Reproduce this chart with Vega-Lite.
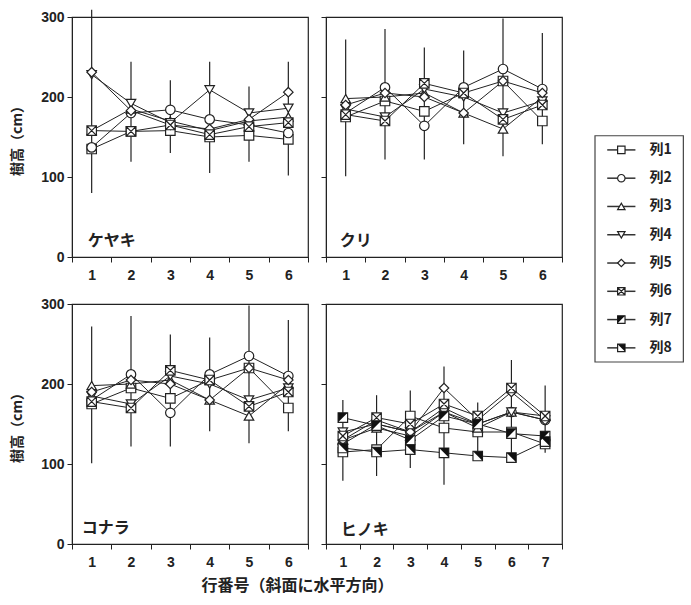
{
 "$schema": "https://vega.github.io/schema/vega-lite/v6.json",
 "background": "white",
 "padding": {"left": 10, "top": 8, "right": 0, "bottom": 0},
 "config": {
  "view": {"stroke": "#222", "strokeWidth": 1.2},
  "axis": {"domainColor": "#222", "tickColor": "#222", "labelColor": "#222", "titleColor": "#222", "grid": false, "tickSize": 5, "labelFont": "Liberation Sans", "labelFontSize": 14, "labelFontWeight": "bold", "titleFont": "Noto Sans CJK JP", "titleFontSize": 14, "titleFontWeight": "bold"},
  "axisX": {"tickBand": "extent", "labelAngle": 0, "labelPadding": 6},
  "axisY": {"labelPadding": 3, "titlePadding": 16}
 },
 "datasets": {
  "pts": [
   {"sp":"ケヤキ","r":1,"s":"列1","h":135},{"sp":"ケヤキ","r":2,"s":"列1","h":157},{"sp":"ケヤキ","r":3,"s":"列1","h":158},{"sp":"ケヤキ","r":4,"s":"列1","h":150},{"sp":"ケヤキ","r":5,"s":"列1","h":152},{"sp":"ケヤキ","r":6,"s":"列1","h":147},
   {"sp":"ケヤキ","r":1,"s":"列2","h":137},{"sp":"ケヤキ","r":2,"s":"列2","h":180},{"sp":"ケヤキ","r":3,"s":"列2","h":184},{"sp":"ケヤキ","r":4,"s":"列2","h":172},{"sp":"ケヤキ","r":5,"s":"列2","h":165},{"sp":"ケヤキ","r":6,"s":"列2","h":155},
   {"sp":"ケヤキ","r":1,"s":"列3","h":158},{"sp":"ケヤキ","r":2,"s":"列3","h":185},{"sp":"ケヤキ","r":3,"s":"列3","h":170},{"sp":"ケヤキ","r":4,"s":"列3","h":158},{"sp":"ケヤキ","r":5,"s":"列3","h":170},{"sp":"ケヤキ","r":6,"s":"列3","h":175},
   {"sp":"ケヤキ","r":1,"s":"列4","h":228},{"sp":"ケヤキ","r":2,"s":"列4","h":192},{"sp":"ケヤキ","r":3,"s":"列4","h":168},{"sp":"ケヤキ","r":4,"s":"列4","h":209},{"sp":"ケヤキ","r":5,"s":"列4","h":180},{"sp":"ケヤキ","r":6,"s":"列4","h":186},
   {"sp":"ケヤキ","r":1,"s":"列5","h":231},{"sp":"ケヤキ","r":2,"s":"列5","h":183},{"sp":"ケヤキ","r":3,"s":"列5","h":165},{"sp":"ケヤキ","r":4,"s":"列5","h":160},{"sp":"ケヤキ","r":5,"s":"列5","h":172},{"sp":"ケヤキ","r":6,"s":"列5","h":206},
   {"sp":"ケヤキ","r":1,"s":"列6","h":158},{"sp":"ケヤキ","r":2,"s":"列6","h":157},{"sp":"ケヤキ","r":3,"s":"列6","h":165},{"sp":"ケヤキ","r":4,"s":"列6","h":153},{"sp":"ケヤキ","r":5,"s":"列6","h":163},{"sp":"ケヤキ","r":6,"s":"列6","h":168},
   {"sp":"クリ","r":1,"s":"列1","h":175},{"sp":"クリ","r":2,"s":"列1","h":195},{"sp":"クリ","r":3,"s":"列1","h":182},{"sp":"クリ","r":4,"s":"列1","h":205},{"sp":"クリ","r":5,"s":"列1","h":220},{"sp":"クリ","r":6,"s":"列1","h":170},
   {"sp":"クリ","r":1,"s":"列2","h":180},{"sp":"クリ","r":2,"s":"列2","h":212},{"sp":"クリ","r":3,"s":"列2","h":164},{"sp":"クリ","r":4,"s":"列2","h":212},{"sp":"クリ","r":5,"s":"列2","h":235},{"sp":"クリ","r":6,"s":"列2","h":210},
   {"sp":"クリ","r":1,"s":"列3","h":198},{"sp":"クリ","r":2,"s":"列3","h":200},{"sp":"クリ","r":3,"s":"列3","h":205},{"sp":"クリ","r":4,"s":"列3","h":180},{"sp":"クリ","r":5,"s":"列3","h":160},{"sp":"クリ","r":6,"s":"列3","h":200},
   {"sp":"クリ","r":1,"s":"列4","h":185},{"sp":"クリ","r":2,"s":"列4","h":175},{"sp":"クリ","r":3,"s":"列4","h":210},{"sp":"クリ","r":4,"s":"列4","h":200},{"sp":"クリ","r":5,"s":"列4","h":180},{"sp":"クリ","r":6,"s":"列4","h":195},
   {"sp":"クリ","r":1,"s":"列5","h":190},{"sp":"クリ","r":2,"s":"列5","h":205},{"sp":"クリ","r":3,"s":"列5","h":200},{"sp":"クリ","r":4,"s":"列5","h":180},{"sp":"クリ","r":5,"s":"列5","h":220},{"sp":"クリ","r":6,"s":"列5","h":205},
   {"sp":"クリ","r":1,"s":"列6","h":178},{"sp":"クリ","r":2,"s":"列6","h":170},{"sp":"クリ","r":3,"s":"列6","h":217},{"sp":"クリ","r":4,"s":"列6","h":205},{"sp":"クリ","r":5,"s":"列6","h":172},{"sp":"クリ","r":6,"s":"列6","h":190},
   {"sp":"コナラ","r":1,"s":"列1","h":175},{"sp":"コナラ","r":2,"s":"列1","h":195},{"sp":"コナラ","r":3,"s":"列1","h":182},{"sp":"コナラ","r":4,"s":"列1","h":205},{"sp":"コナラ","r":5,"s":"列1","h":220},{"sp":"コナラ","r":6,"s":"列1","h":170},
   {"sp":"コナラ","r":1,"s":"列2","h":180},{"sp":"コナラ","r":2,"s":"列2","h":212},{"sp":"コナラ","r":3,"s":"列2","h":164},{"sp":"コナラ","r":4,"s":"列2","h":212},{"sp":"コナラ","r":5,"s":"列2","h":235},{"sp":"コナラ","r":6,"s":"列2","h":210},
   {"sp":"コナラ","r":1,"s":"列3","h":198},{"sp":"コナラ","r":2,"s":"列3","h":200},{"sp":"コナラ","r":3,"s":"列3","h":205},{"sp":"コナラ","r":4,"s":"列3","h":180},{"sp":"コナラ","r":5,"s":"列3","h":160},{"sp":"コナラ","r":6,"s":"列3","h":200},
   {"sp":"コナラ","r":1,"s":"列4","h":185},{"sp":"コナラ","r":2,"s":"列4","h":175},{"sp":"コナラ","r":3,"s":"列4","h":210},{"sp":"コナラ","r":4,"s":"列4","h":200},{"sp":"コナラ","r":5,"s":"列4","h":180},{"sp":"コナラ","r":6,"s":"列4","h":195},
   {"sp":"コナラ","r":1,"s":"列5","h":190},{"sp":"コナラ","r":2,"s":"列5","h":205},{"sp":"コナラ","r":3,"s":"列5","h":200},{"sp":"コナラ","r":4,"s":"列5","h":180},{"sp":"コナラ","r":5,"s":"列5","h":220},{"sp":"コナラ","r":6,"s":"列5","h":205},
   {"sp":"コナラ","r":1,"s":"列6","h":178},{"sp":"コナラ","r":2,"s":"列6","h":170},{"sp":"コナラ","r":3,"s":"列6","h":217},{"sp":"コナラ","r":4,"s":"列6","h":205},{"sp":"コナラ","r":5,"s":"列6","h":172},{"sp":"コナラ","r":6,"s":"列6","h":190},
   {"sp":"ヒノキ","r":1,"s":"列1","h":115},{"sp":"ヒノキ","r":2,"s":"列1","h":118},{"sp":"ヒノキ","r":3,"s":"列1","h":160},{"sp":"ヒノキ","r":4,"s":"列1","h":145},{"sp":"ヒノキ","r":5,"s":"列1","h":140},{"sp":"ヒノキ","r":6,"s":"列1","h":140},{"sp":"ヒノキ","r":7,"s":"列1","h":125},
   {"sp":"ヒノキ","r":1,"s":"列2","h":125},{"sp":"ヒノキ","r":2,"s":"列2","h":150},{"sp":"ヒノキ","r":3,"s":"列2","h":140},{"sp":"ヒノキ","r":4,"s":"列2","h":170},{"sp":"ヒノキ","r":5,"s":"列2","h":150},{"sp":"ヒノキ","r":6,"s":"列2","h":165},{"sp":"ヒノキ","r":7,"s":"列2","h":155},
   {"sp":"ヒノキ","r":1,"s":"列3","h":130},{"sp":"ヒノキ","r":2,"s":"列3","h":145},{"sp":"ヒノキ","r":3,"s":"列3","h":135},{"sp":"ヒノキ","r":4,"s":"列3","h":165},{"sp":"ヒノキ","r":5,"s":"列3","h":145},{"sp":"ヒノキ","r":6,"s":"列3","h":165},{"sp":"ヒノキ","r":7,"s":"列3","h":160},
   {"sp":"ヒノキ","r":1,"s":"列4","h":140},{"sp":"ヒノキ","r":2,"s":"列4","h":150},{"sp":"ヒノキ","r":3,"s":"列4","h":140},{"sp":"ヒノキ","r":4,"s":"列4","h":165},{"sp":"ヒノキ","r":5,"s":"列4","h":150},{"sp":"ヒノキ","r":6,"s":"列4","h":165},{"sp":"ヒノキ","r":7,"s":"列4","h":155},
   {"sp":"ヒノキ","r":1,"s":"列5","h":130},{"sp":"ヒノキ","r":2,"s":"列5","h":155},{"sp":"ヒノキ","r":3,"s":"列5","h":140},{"sp":"ヒノキ","r":4,"s":"列5","h":195},{"sp":"ヒノキ","r":5,"s":"列5","h":155},{"sp":"ヒノキ","r":6,"s":"列5","h":190},{"sp":"ヒノキ","r":7,"s":"列5","h":155},
   {"sp":"ヒノキ","r":1,"s":"列6","h":135},{"sp":"ヒノキ","r":2,"s":"列6","h":158},{"sp":"ヒノキ","r":3,"s":"列6","h":150},{"sp":"ヒノキ","r":4,"s":"列6","h":175},{"sp":"ヒノキ","r":5,"s":"列6","h":160},{"sp":"ヒノキ","r":6,"s":"列6","h":195},{"sp":"ヒノキ","r":7,"s":"列6","h":160},
   {"sp":"ヒノキ","r":1,"s":"列7","h":158},{"sp":"ヒノキ","r":2,"s":"列7","h":148},{"sp":"ヒノキ","r":3,"s":"列7","h":130},{"sp":"ヒノキ","r":4,"s":"列7","h":160},{"sp":"ヒノキ","r":5,"s":"列7","h":150},{"sp":"ヒノキ","r":6,"s":"列7","h":138},{"sp":"ヒノキ","r":7,"s":"列7","h":135},
   {"sp":"ヒノキ","r":1,"s":"列8","h":120},{"sp":"ヒノキ","r":2,"s":"列8","h":115},{"sp":"ヒノキ","r":3,"s":"列8","h":118},{"sp":"ヒノキ","r":4,"s":"列8","h":114},{"sp":"ヒノキ","r":5,"s":"列8","h":110},{"sp":"ヒノキ","r":6,"s":"列8","h":108},{"sp":"ヒノキ","r":7,"s":"列8","h":128}
  ],
  "err": [
   {"sp":"ケヤキ","r":1,"lo":80,"hi":309},{"sp":"ケヤキ","r":2,"lo":119,"hi":244},{"sp":"ケヤキ","r":3,"lo":130,"hi":221},{"sp":"ケヤキ","r":4,"lo":105,"hi":244},{"sp":"ケヤキ","r":5,"lo":119,"hi":213},{"sp":"ケヤキ","r":6,"lo":102,"hi":244},
   {"sp":"クリ","r":1,"lo":101,"hi":272},{"sp":"クリ","r":2,"lo":122,"hi":285},{"sp":"クリ","r":3,"lo":122,"hi":262},{"sp":"クリ","r":4,"lo":141,"hi":258},{"sp":"クリ","r":5,"lo":126,"hi":298},{"sp":"クリ","r":6,"lo":141,"hi":280},
   {"sp":"コナラ","r":1,"lo":101,"hi":272},{"sp":"コナラ","r":2,"lo":122,"hi":285},{"sp":"コナラ","r":3,"lo":122,"hi":262},{"sp":"コナラ","r":4,"lo":141,"hi":258},{"sp":"コナラ","r":5,"lo":126,"hi":298},{"sp":"コナラ","r":6,"lo":141,"hi":280},
   {"sp":"ヒノキ","r":1,"lo":79,"hi":180},{"sp":"ヒノキ","r":2,"lo":85,"hi":186},{"sp":"ヒノキ","r":3,"lo":95,"hi":192},{"sp":"ヒノキ","r":4,"lo":74,"hi":222},{"sp":"ヒノキ","r":5,"lo":106,"hi":177},{"sp":"ヒノキ","r":6,"lo":110,"hi":230},{"sp":"ヒノキ","r":7,"lo":114,"hi":198}
  ],
  "lbl": [{"sp":"ケヤキ"},{"sp":"クリ"},{"sp":"コナラ"},{"sp":"ヒノキ"}]
 },
 "hconcat": [
  {
   "concat": [
    {
     "width": 236, "height": 240,
     "encoding": {"x": {"field": "r", "type": "ordinal", "bandPosition": 0.5, "scale": {"type": "band", "paddingInner": 0, "paddingOuter": 0}, "axis": {"title": null}}},
     "layer": [
      {"data": {"name": "err"}, "transform": [{"filter": "datum.sp === 'ケヤキ'"}], "mark": {"type": "rule", "color": "#222", "strokeWidth": 1.2},
       "encoding": {"y": {"field": "lo", "type": "quantitative", "scale": {"domain": [0, 300], "nice": false}, "axis": {"title": "樹高（cm）", "values": [0, 100, 200, 300]}}, "y2": {"field": "hi"}}},
      {"data": {"name": "pts"}, "transform": [{"filter": "datum.sp === 'ケヤキ'"}], "mark": {"type": "line", "color": "#222", "strokeWidth": 1},
       "encoding": {"y": {"field": "h", "type": "quantitative", "axis": {"title": "樹高（cm）", "values": [0, 100, 200, 300]}}, "detail": {"field": "s"}}},
      {"data": {"name": "pts"}, "transform": [{"filter": "datum.sp === 'ケヤキ'"}], "mark": {"type": "point", "filled": false, "fill": "white", "fillOpacity": 1, "stroke": "#222", "strokeWidth": 1.2, "size": 90, "opacity": 1},
       "encoding": {"y": {"field": "h", "type": "quantitative", "axis": {"title": "樹高（cm）", "values": [0, 100, 200, 300]}},
        "shape": {"field": "s", "type": "nominal", "legend": null, "scale": {"domain": ["列1","列2","列3","列4","列5","列6","列7","列8"], "range": ["square","circle","triangle-up","triangle-down","diamond","M-1,-1H1V1H-1Z M-1,-1L1,1 M1,-1L-1,1","square","square"]}}}},
      {"data": {"name": "lbl"}, "transform": [{"filter": "datum.sp === 'ケヤキ'"}], "mark": {"type": "text", "align": "left", "baseline": "middle", "dx": -4, "font": "Noto Sans CJK JP", "fontSize": 16, "fontWeight": "bold", "color": "#222"},
       "encoding": {"x": {"datum": 1, "type": "ordinal", "bandPosition": 0.5}, "y": {"datum": 20, "type": "quantitative", "axis": {"title": "樹高（cm）", "values": [0, 100, 200, 300]}}, "text": {"field": "sp"}}}
     ]
    },
    {
     "width": 236, "height": 240,
     "encoding": {"x": {"field": "r", "type": "ordinal", "bandPosition": 0.5, "scale": {"type": "band", "paddingInner": 0, "paddingOuter": 0}, "axis": {"title": null}}},
     "layer": [
      {"data": {"name": "err"}, "transform": [{"filter": "datum.sp === 'クリ'"}], "mark": {"type": "rule", "color": "#222", "strokeWidth": 1.2},
       "encoding": {"y": {"field": "lo", "type": "quantitative", "scale": {"domain": [0, 300], "nice": false}, "axis": {"title": null, "labels": false, "values": [0, 100, 200, 300]}}, "y2": {"field": "hi"}}},
      {"data": {"name": "pts"}, "transform": [{"filter": "datum.sp === 'クリ'"}], "mark": {"type": "line", "color": "#222", "strokeWidth": 1},
       "encoding": {"y": {"field": "h", "type": "quantitative", "axis": {"title": null, "labels": false, "values": [0, 100, 200, 300]}}, "detail": {"field": "s"}}},
      {"data": {"name": "pts"}, "transform": [{"filter": "datum.sp === 'クリ'"}], "mark": {"type": "point", "filled": false, "fill": "white", "fillOpacity": 1, "stroke": "#222", "strokeWidth": 1.2, "size": 90, "opacity": 1},
       "encoding": {"y": {"field": "h", "type": "quantitative", "axis": {"title": null, "labels": false, "values": [0, 100, 200, 300]}},
        "shape": {"field": "s", "type": "nominal", "legend": null, "scale": {"domain": ["列1","列2","列3","列4","列5","列6","列7","列8"], "range": ["square","circle","triangle-up","triangle-down","diamond","M-1,-1H1V1H-1Z M-1,-1L1,1 M1,-1L-1,1","square","square"]}}}},
      {"data": {"name": "lbl"}, "transform": [{"filter": "datum.sp === 'クリ'"}], "mark": {"type": "text", "align": "left", "baseline": "middle", "dx": -6, "font": "Noto Sans CJK JP", "fontSize": 16, "fontWeight": "bold", "color": "#222"},
       "encoding": {"x": {"datum": 1, "type": "ordinal", "bandPosition": 0.5}, "y": {"datum": 20, "type": "quantitative", "axis": {"title": null, "labels": false, "values": [0, 100, 200, 300]}}, "text": {"field": "sp"}}}
     ]
    },
    {
     "width": 236, "height": 240,
     "encoding": {"x": {"field": "r", "type": "ordinal", "bandPosition": 0.5, "scale": {"type": "band", "paddingInner": 0, "paddingOuter": 0}, "axis": {"title": null}}},
     "layer": [
      {"data": {"name": "err"}, "transform": [{"filter": "datum.sp === 'コナラ'"}], "mark": {"type": "rule", "color": "#222", "strokeWidth": 1.2},
       "encoding": {"y": {"field": "lo", "type": "quantitative", "scale": {"domain": [0, 300], "nice": false}, "axis": {"title": "樹高（cm）", "values": [0, 100, 200, 300]}}, "y2": {"field": "hi"}}},
      {"data": {"name": "pts"}, "transform": [{"filter": "datum.sp === 'コナラ'"}], "mark": {"type": "line", "color": "#222", "strokeWidth": 1},
       "encoding": {"y": {"field": "h", "type": "quantitative", "axis": {"title": "樹高（cm）", "values": [0, 100, 200, 300]}}, "detail": {"field": "s"}}},
      {"data": {"name": "pts"}, "transform": [{"filter": "datum.sp === 'コナラ'"}], "mark": {"type": "point", "filled": false, "fill": "white", "fillOpacity": 1, "stroke": "#222", "strokeWidth": 1.2, "size": 90, "opacity": 1},
       "encoding": {"y": {"field": "h", "type": "quantitative", "axis": {"title": "樹高（cm）", "values": [0, 100, 200, 300]}},
        "shape": {"field": "s", "type": "nominal", "legend": null, "scale": {"domain": ["列1","列2","列3","列4","列5","列6","列7","列8"], "range": ["square","circle","triangle-up","triangle-down","diamond","M-1,-1H1V1H-1Z M-1,-1L1,1 M1,-1L-1,1","square","square"]}}}},
      {"data": {"name": "lbl"}, "transform": [{"filter": "datum.sp === 'コナラ'"}], "mark": {"type": "text", "align": "left", "baseline": "middle", "dx": -10, "font": "Noto Sans CJK JP", "fontSize": 16, "fontWeight": "bold", "color": "#222"},
       "encoding": {"x": {"datum": 1, "type": "ordinal", "bandPosition": 0.5}, "y": {"datum": 20, "type": "quantitative", "axis": {"title": "樹高（cm）", "values": [0, 100, 200, 300]}}, "text": {"field": "sp"}}}
     ]
    },
    {
     "width": 236, "height": 240,
     "encoding": {"x": {"field": "r", "type": "ordinal", "bandPosition": 0.5, "scale": {"type": "band", "paddingInner": 0, "paddingOuter": 0}, "axis": {"title": null}}},
     "layer": [
      {"data": {"name": "err"}, "transform": [{"filter": "datum.sp === 'ヒノキ'"}], "mark": {"type": "rule", "color": "#222", "strokeWidth": 1.2},
       "encoding": {"y": {"field": "lo", "type": "quantitative", "scale": {"domain": [0, 300], "nice": false}, "axis": {"title": null, "labels": false, "values": [0, 100, 200, 300]}}, "y2": {"field": "hi"}}},
      {"data": {"name": "pts"}, "transform": [{"filter": "datum.sp === 'ヒノキ'"}], "mark": {"type": "line", "color": "#222", "strokeWidth": 1},
       "encoding": {"y": {"field": "h", "type": "quantitative", "axis": {"title": null, "labels": false, "values": [0, 100, 200, 300]}}, "detail": {"field": "s"}}},
      {"data": {"name": "pts"}, "transform": [{"filter": "datum.sp === 'ヒノキ'"}], "mark": {"type": "point", "filled": false, "fill": "white", "fillOpacity": 1, "stroke": "#222", "strokeWidth": 1.2, "size": 90, "opacity": 1},
       "encoding": {"y": {"field": "h", "type": "quantitative", "axis": {"title": null, "labels": false, "values": [0, 100, 200, 300]}},
        "shape": {"field": "s", "type": "nominal", "legend": null, "scale": {"domain": ["列1","列2","列3","列4","列5","列6","列7","列8"], "range": ["square","circle","triangle-up","triangle-down","diamond","M-1,-1H1V1H-1Z M-1,-1L1,1 M1,-1L-1,1","square","square"]}}}},
      {"data": {"name": "pts"}, "transform": [{"filter": "datum.sp === 'ヒノキ' && datum.s === '列7'"}], "mark": {"type": "point", "shape": "M-1,-1H1L-1,1Z", "filled": true, "color": "#111", "size": 90, "opacity": 1, "strokeWidth": 0},
       "encoding": {"y": {"field": "h", "type": "quantitative", "axis": {"title": null, "labels": false, "values": [0, 100, 200, 300]}}}},
      {"data": {"name": "pts"}, "transform": [{"filter": "datum.sp === 'ヒノキ' && datum.s === '列8'"}], "mark": {"type": "point", "shape": "M-1,-1H1V1Z", "filled": true, "color": "#111", "size": 90, "opacity": 1, "strokeWidth": 0},
       "encoding": {"y": {"field": "h", "type": "quantitative", "axis": {"title": null, "labels": false, "values": [0, 100, 200, 300]}}}},
      {"data": {"name": "lbl"}, "transform": [{"filter": "datum.sp === 'ヒノキ'"}], "mark": {"type": "text", "align": "left", "baseline": "middle", "dx": -2, "font": "Noto Sans CJK JP", "fontSize": 16, "fontWeight": "bold", "color": "#222"},
       "encoding": {"x": {"datum": 1, "type": "ordinal", "bandPosition": 0.5}, "y": {"datum": 18, "type": "quantitative", "axis": {"title": null, "labels": false, "values": [0, 100, 200, 300]}}, "text": {"field": "sp"}}}
     ]
    }
   ],
   "columns": 2,
   "align": "each",
   "spacing": {"row": 13, "column": 9},
   "title": {"text": "行番号（斜面に水平方向）", "orient": "bottom", "anchor": "middle", "font": "Noto Sans CJK JP", "fontSize": 16, "fontWeight": "bold", "color": "#222", "offset": 8, "dx": 11}
  },
  {
   "width": 94, "height": 345,
   "view": {"stroke": null},
   "layer": [
    {"data": {"values": [{}]}, "mark": {"type": "rect", "fill": null, "stroke": "#444", "strokeWidth": 1.2},
     "encoding": {"x": {"datum": 0, "type": "quantitative", "scale": {"domain": [0, 94]}, "axis": null}, "x2": {"datum": 94},
      "y": {"datum": 0.5, "type": "quantitative", "scale": {"domain": [-3.7, 8.5], "reverse": true, "nice": false, "zero": false}, "axis": null}, "y2": {"datum": 8.5}}},
    {"data": {"name": "pts"},
     "transform": [{"aggregate": [{"op": "count", "as": "n"}], "groupby": ["s"]}, {"window": [{"op": "row_number", "as": "i"}], "sort": [{"field": "s"}]}],
     "encoding": {"y": {"field": "i", "type": "quantitative", "axis": null}},
     "layer": [
      {"mark": {"type": "rule", "color": "#333", "strokeWidth": 1.5},
       "encoding": {"x": {"datum": 13, "type": "quantitative"}, "x2": {"datum": 43}}},
      {"mark": {"type": "point", "filled": false, "fill": "white", "fillOpacity": 1, "stroke": "#222", "strokeWidth": 1.2, "size": 55, "opacity": 1},
       "encoding": {"x": {"datum": 28, "type": "quantitative"},
        "shape": {"field": "s", "type": "nominal", "legend": null, "scale": {"domain": ["列1","列2","列3","列4","列5","列6","列7","列8"], "range": ["square","circle","triangle-up","triangle-down","diamond","M-1,-1H1V1H-1Z M-1,-1L1,1 M1,-1L-1,1","square","square"]}}}},
      {"transform": [{"filter": "datum.s === '列7'"}], "mark": {"type": "point", "shape": "M-1,-1H1L-1,1Z", "filled": true, "color": "#111", "size": 55, "opacity": 1, "strokeWidth": 0},
       "encoding": {"x": {"datum": 28, "type": "quantitative"}}},
      {"transform": [{"filter": "datum.s === '列8'"}], "mark": {"type": "point", "shape": "M-1,-1H1V1Z", "filled": true, "color": "#111", "size": 55, "opacity": 1, "strokeWidth": 0},
       "encoding": {"x": {"datum": 28, "type": "quantitative"}}},
      {"mark": {"type": "text", "align": "left", "baseline": "middle", "font": "Noto Sans CJK JP", "fontSize": 14, "fontWeight": "bold", "color": "#222"},
       "encoding": {"x": {"datum": 58, "type": "quantitative"}, "text": {"field": "s"}}}
     ]
    }
   ]
  }
 ],
 "spacing": 30
}
